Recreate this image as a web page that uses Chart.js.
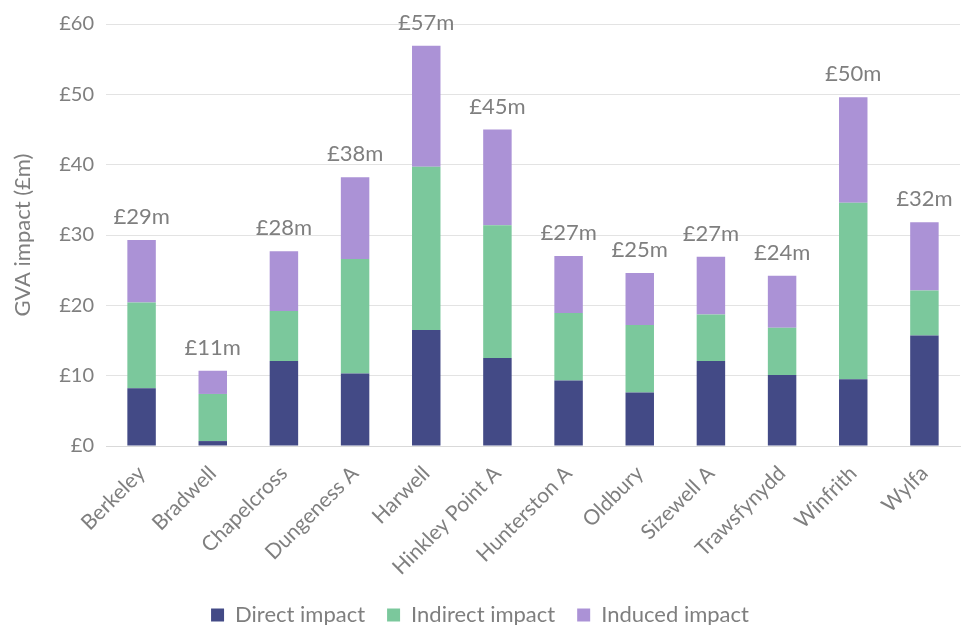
<!DOCTYPE html>
<html>
<head>
<meta charset="utf-8">
<script src="https://cdn.jsdelivr.net/npm/chart.js@4/dist/chart.umd.min.js"></script>
<style>
  html, body { margin: 0; padding: 0; background: #ffffff; }
  #wrap { width: 965px; height: 625px; }
</style>
</head>
<body>
<div id="wrap"><canvas id="gva-chart" width="965" height="625"></canvas></div>
<script>
const categories = ["Berkeley", "Bradwell", "Chapelcross", "Dungeness A", "Harwell", "Hinkley Point A",
  "Hunterston A", "Oldbury", "Sizewell A", "Trawsfynydd", "Winfrith", "Wylfa"];
const directImpact = [8.2, 0.7, 12.1, 10.3, 16.5, 12.5, 9.3, 7.6, 12.1, 10.1, 9.5, 15.7];
const indirectImpact = [12.2, 6.7, 7.1, 16.3, 23.2, 18.9, 9.6, 9.6, 6.6, 6.7, 25.1, 6.4];
const inducedImpact = [8.9, 3.3, 8.5, 11.6, 17.2, 13.6, 8.1, 7.4, 8.2, 7.4, 15.0, 9.7];
const yTicks = [0, 10, 20, 30, 40, 50, 60];

const FONT = "Lato, 'Open Sans', sans-serif";
const GREY = "#7f7f7f";

function totalLabel(i) {
  const total = directImpact[i] + indirectImpact[i] + inducedImpact[i];
  return "£" + Math.round(total) + "m";
}

// draws the £xxm totals above each stack
const totalsPlugin = {
  id: "totals",
  afterDatasetsDraw(chart) {
    const ctx = chart.ctx;
    const meta = chart.getDatasetMeta(2);
    ctx.save();
    ctx.font = "22px " + FONT;
    ctx.fillStyle = GREY;
    ctx.textAlign = "center";
    ctx.textBaseline = "alphabetic";
    meta.data.forEach((bar, i) => {
      ctx.fillText(totalLabel(i), bar.x, bar.y - 16);
    });
    ctx.restore();
  },
};

new Chart(document.getElementById("gva-chart").getContext("2d"), {
  type: "bar",
  data: {
    labels: categories,
    datasets: [
      {
        label: "Direct impact",
        data: directImpact,
        backgroundColor: "#434a86",
        barPercentage: 0.4,
        categoryPercentage: 1,
      },
      {
        label: "Indirect impact",
        data: indirectImpact,
        backgroundColor: "#7bc89c",
        barPercentage: 0.4,
        categoryPercentage: 1,
      },
      {
        label: "Induced impact",
        data: inducedImpact,
        backgroundColor: "#ab92d6",
        barPercentage: 0.4,
        categoryPercentage: 1,
      },
    ],
  },
  options: {
    responsive: false,
    animation: false,
    layout: {
      padding: { top: 12, right: 5, left: 0, bottom: -11 },
    },
    plugins: {
      legend: {
        position: "bottom",
        labels: {
          boxWidth: 13,
          boxHeight: 13,
          padding: 22,
          color: GREY,
          font: { family: FONT, size: 22 },
        },
      },
      tooltip: { enabled: false },
    },
    scales: {
      x: {
        stacked: true,
        grid: { display: false },
        border: { color: "#d9d9d9" },
        ticks: {
          color: GREY,
          padding: 7,
          font: { family: FONT, size: 21 },
          minRotation: 45,
          maxRotation: 45,
          autoSkip: false,
        },
        afterFit(scale) {
          scale.height = 136;
        },
      },
      y: {
        stacked: true,
        min: 0,
        max: 60,
        afterBuildTicks(scale) {
          scale.ticks = yTicks.map((v) => ({ value: v }));
        },
        grid: { color: "#e3e3e3", drawTicks: false },
        border: { display: false },
        ticks: {
          color: GREY,
          padding: 12,
          font: { family: FONT, size: 20 },
          callback: (v) => "£" + v,
        },
        title: {
          display: true,
          text: "GVA impact (£m)",
          color: GREY,
          font: { family: FONT, size: 22 },
          padding: { top: 10, bottom: 0 },
        },
        afterFit(scale) {
          scale.width = 106;
        },
      },
    },
  },
  plugins: [totalsPlugin],
});
</script>
</body>
</html>
